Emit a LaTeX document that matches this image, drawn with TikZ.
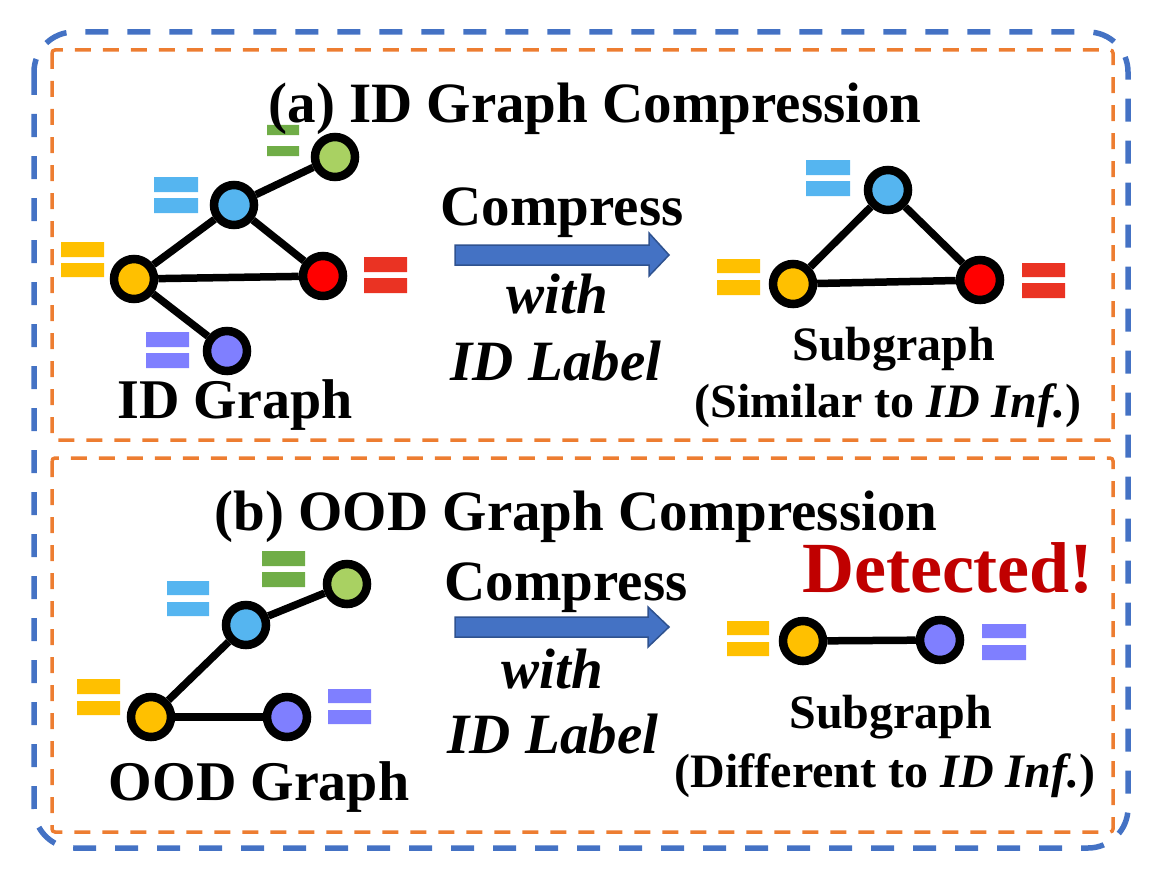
\documentclass[tikz,border=0pt]{standalone}
\usepackage{fontspec}
\setmainfont{Liberation Serif}
\definecolor{boxblue}{HTML}{4472C4}
\definecolor{boxorange}{HTML}{ED7D31}
\definecolor{arrfill}{HTML}{4472C4}
\definecolor{arrdraw}{HTML}{2F528F}
\definecolor{cgreen}{HTML}{A9D162}
\definecolor{eqgreen}{HTML}{70AD47}
\definecolor{cblue}{HTML}{55B5F0}
\definecolor{cyellow}{HTML}{FFC000}
\definecolor{cred}{HTML}{FF0000}
\definecolor{eqred}{HTML}{EA3323}
\definecolor{cpurple}{HTML}{7F7FFF}
\definecolor{detred}{HTML}{C00000}
\tikzset{
  gnode/.style={circle, draw=black, line width=8.5pt, minimum size=40pt, inner sep=0pt},
  gedge/.style={line width=7.5pt, draw=black},
  bigtxt/.style={anchor=base, inner sep=0pt, font=\bfseries\fontsize{57}{60}\selectfont},
  subtxt/.style={anchor=base, inner sep=0pt, font=\bfseries\fontsize{48}{50}\selectfont},
  bluebox/.style={draw=boxblue, line width=5.5pt, dash pattern=on 23pt off 19pt, rounded corners=40pt},
  orangebox/.style={draw=boxorange, line width=3.5pt, dash pattern=on 16pt off 12pt, rounded corners=3pt},
  bigarrow/.style={fill=arrfill, draw=arrdraw, line width=1.5pt},
}
\begin{document}
\begin{tikzpicture}[x=1pt,y=-1pt]
\useasboundingbox (0,0) rectangle (1150,872);
% frames
\draw[bluebox] (34,32) rectangle (1128,848);
\draw[orangebox] (52,50) rectangle (1113,440);
\draw[orangebox] (52,458) rectangle (1113,832);
% arrows
\draw[bigarrow] (455,245) -- (649,245) -- (649,233) -- (669,255) -- (649,276) -- (649,265) -- (455,265) -- cycle;
\draw[bigarrow] (455,617) -- (648,617) -- (648,607) -- (669,627) -- (648,647) -- (648,637) -- (455,637) -- cycle;
% top-left graph
\node[gnode, fill=cgreen] (ag) at (335,157) {};
\node[gnode, fill=cblue] (ab) at (234,205) {};
\node[gnode, fill=cyellow] (ay) at (134,279) {};
\node[gnode, fill=cred] (ar) at (323,276) {};
\node[gnode, fill=cpurple] (ap) at (227,351) {};
\draw[gedge] (ab) -- (ag);
\draw[gedge] (ab) -- (ay);
\draw[gedge] (ab) -- (ar);
\draw[gedge] (ay) -- (ar);
\draw[gedge] (ay) -- (ap);
\fill[eqgreen] (267,125) rectangle (299,135) (267,146) rectangle (299,156);
\fill[cblue] (154,177) rectangle (198,192) (154,198) rectangle (198,213);
\fill[cyellow] (61,242) rectangle (104,257) (61,263) rectangle (104,277);
\fill[eqred] (364,257) rectangle (407,272) (364,278) rectangle (407,293);
\fill[cpurple] (146,332) rectangle (189,347) (146,353) rectangle (189,368);
% top-right subgraph
\node[gnode, fill=cblue] (sb) at (888,190) {};
\node[gnode, fill=cyellow] (sy) at (793,284) {};
\node[gnode, fill=cred] (sr) at (980,280) {};
\draw[gedge] (sb) -- (sy);
\draw[gedge] (sb) -- (sr);
\draw[gedge] (sy) -- (sr);
\fill[cblue] (806,160) rectangle (850,175) (806,181) rectangle (850,196);
\fill[cyellow] (717,259) rectangle (760,273) (717,280) rectangle (760,295);
\fill[eqred] (1022,263) rectangle (1065,277) (1022,283) rectangle (1065,298);
% bottom-left graph
\node[gnode, fill=cgreen] (bg) at (347,584) {};
\node[gnode, fill=cblue] (bb) at (246,625) {};
\node[gnode, fill=cyellow] (by) at (151,717) {};
\node[gnode, fill=cpurple] (bp) at (287,717) {};
\draw[gedge] (by) -- (bb);
\draw[gedge] (bb) -- (bg);
\draw[gedge] (by) -- (bp);
\fill[eqgreen] (262,551) rectangle (305,566) (262,572) rectangle (305,587);
\fill[cblue] (167,581) rectangle (209,595) (167,602) rectangle (209,616);
\fill[cyellow] (77,679) rectangle (120,694) (77,701) rectangle (120,715);
\fill[cpurple] (328,689) rectangle (371,703) (328,710) rectangle (371,724);
% bottom-right subgraph
\node[gnode, fill=cyellow] (dy) at (803,641) {};
\node[gnode, fill=cpurple] (dp) at (940,640) {};
\draw[gedge] (dy) -- (dp);
\fill[cyellow] (727,621) rectangle (769,635) (727,642) rectangle (769,656);
\fill[cpurple] (982,624) rectangle (1026,638) (982,645) rectangle (1026,660);
% texts
\node[bigtxt] (ta) at (595,123) {(a) ID Graph Compression};
\node[bigtxt] (tb) at (576,530) {(b) OOD Graph Compression};
\node[bigtxt, font=\bfseries\fontsize{56}{60}\selectfont] (lid) at (235,418) {ID Graph};
\node[bigtxt, font=\bfseries\fontsize{56}{60}\selectfont] (lood) at (259,800) {OOD Graph};
\node[bigtxt] (c1) at (562,225) {Compress};
\node[bigtxt, font=\bfseries\itshape\fontsize{57}{60}\selectfont] (w1) at (557,313) {with};
\node[bigtxt, font=\bfseries\itshape\fontsize{57}{60}\selectfont] (l1) at (556,380) {ID Label};
\node[bigtxt] (c2) at (566,600) {Compress};
\node[bigtxt, font=\bfseries\itshape\fontsize{57}{60}\selectfont] (w2) at (552,688) {with};
\node[bigtxt, font=\bfseries\itshape\fontsize{57}{60}\selectfont] (l2) at (553,753) {ID Label};
\node[subtxt] (s1) at (894,360) {Subgraph};
\node[subtxt] (s1b) at (888,417) {(Similar to \textit{ID Inf.})};
\node[subtxt] (s2) at (891,728) {Subgraph};
\node[subtxt] (s2b) at (885,787) {(Different to \textit{ID Inf.})};
\node[bigtxt, text=detred, font=\bfseries\fontsize{72}{76}\selectfont] (det) at (948,592) {Detected!};
\end{tikzpicture}
\end{document}
